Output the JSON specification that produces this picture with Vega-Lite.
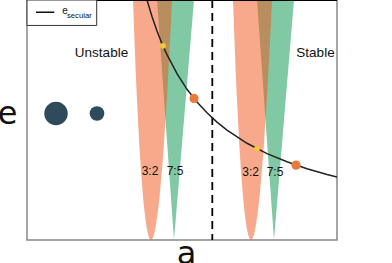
{
  "$schema": "https://vega.github.io/schema/vega-lite/v6.json",
  "width": 310,
  "height": 240,
  "autosize": {"type": "none"},
  "padding": {"left": 27, "top": 0, "right": 55, "bottom": 23},
  "config": {
    "view": {"stroke": "#888888", "strokeWidth": 1.5},
    "axis": {"domain": false, "ticks": false, "labels": false, "grid": false, "titleFont": "DejaVu Sans", "titleFontWeight": "normal", "titleFontSize": 32, "titleColor": "#111111"}
  },
  "datasets": {
    "wedges": [
      {"wedge": "o1", "kind": "3:2", "e": 0, "lo": 1.240, "hi": 1.240},
      {"wedge": "o1", "kind": "3:2", "e": 0.005, "lo": 1.226, "hi": 1.254},
      {"wedge": "o1", "kind": "3:2", "e": 0.01, "lo": 1.221, "hi": 1.260},
      {"wedge": "o1", "kind": "3:2", "e": 0.02, "lo": 1.213, "hi": 1.268},
      {"wedge": "o1", "kind": "3:2", "e": 0.05, "lo": 1.197, "hi": 1.284},
      {"wedge": "o1", "kind": "3:2", "e": 0.1, "lo": 1.180, "hi": 1.303},
      {"wedge": "o1", "kind": "3:2", "e": 0.15, "lo": 1.167, "hi": 1.318},
      {"wedge": "o1", "kind": "3:2", "e": 0.2, "lo": 1.156, "hi": 1.330},
      {"wedge": "o1", "kind": "3:2", "e": 0.3, "lo": 1.138, "hi": 1.351},
      {"wedge": "o1", "kind": "3:2", "e": 0.4, "lo": 1.123, "hi": 1.369},
      {"wedge": "o1", "kind": "3:2", "e": 0.5, "lo": 1.110, "hi": 1.385},
      {"wedge": "o1", "kind": "3:2", "e": 0.6, "lo": 1.098, "hi": 1.400},
      {"wedge": "o1", "kind": "3:2", "e": 0.7, "lo": 1.087, "hi": 1.414},
      {"wedge": "o1", "kind": "3:2", "e": 0.8, "lo": 1.078, "hi": 1.426},
      {"wedge": "o1", "kind": "3:2", "e": 0.9, "lo": 1.069, "hi": 1.439},
      {"wedge": "o1", "kind": "3:2", "e": 1.0, "lo": 1.060, "hi": 1.450},
      {"wedge": "o2", "kind": "3:2", "e": 0, "lo": 2.240, "hi": 2.240},
      {"wedge": "o2", "kind": "3:2", "e": 0.005, "lo": 2.226, "hi": 2.254},
      {"wedge": "o2", "kind": "3:2", "e": 0.01, "lo": 2.221, "hi": 2.260},
      {"wedge": "o2", "kind": "3:2", "e": 0.02, "lo": 2.213, "hi": 2.268},
      {"wedge": "o2", "kind": "3:2", "e": 0.05, "lo": 2.197, "hi": 2.284},
      {"wedge": "o2", "kind": "3:2", "e": 0.1, "lo": 2.180, "hi": 2.303},
      {"wedge": "o2", "kind": "3:2", "e": 0.15, "lo": 2.167, "hi": 2.318},
      {"wedge": "o2", "kind": "3:2", "e": 0.2, "lo": 2.156, "hi": 2.330},
      {"wedge": "o2", "kind": "3:2", "e": 0.3, "lo": 2.138, "hi": 2.351},
      {"wedge": "o2", "kind": "3:2", "e": 0.4, "lo": 2.123, "hi": 2.369},
      {"wedge": "o2", "kind": "3:2", "e": 0.5, "lo": 2.110, "hi": 2.385},
      {"wedge": "o2", "kind": "3:2", "e": 0.6, "lo": 2.098, "hi": 2.400},
      {"wedge": "o2", "kind": "3:2", "e": 0.7, "lo": 2.087, "hi": 2.414},
      {"wedge": "o2", "kind": "3:2", "e": 0.8, "lo": 2.078, "hi": 2.426},
      {"wedge": "o2", "kind": "3:2", "e": 0.9, "lo": 2.069, "hi": 2.439},
      {"wedge": "o2", "kind": "3:2", "e": 1.0, "lo": 2.060, "hi": 2.450},
      {"wedge": "g1", "kind": "7:5", "e": 0, "lo": 1.470, "hi": 1.470},
      {"wedge": "g1", "kind": "7:5", "e": 0.1, "lo": 1.453, "hi": 1.490},
      {"wedge": "g1", "kind": "7:5", "e": 0.2, "lo": 1.436, "hi": 1.510},
      {"wedge": "g1", "kind": "7:5", "e": 0.3, "lo": 1.419, "hi": 1.530},
      {"wedge": "g1", "kind": "7:5", "e": 0.4, "lo": 1.402, "hi": 1.550},
      {"wedge": "g1", "kind": "7:5", "e": 0.5, "lo": 1.385, "hi": 1.570},
      {"wedge": "g1", "kind": "7:5", "e": 0.6, "lo": 1.368, "hi": 1.590},
      {"wedge": "g1", "kind": "7:5", "e": 0.7, "lo": 1.351, "hi": 1.610},
      {"wedge": "g1", "kind": "7:5", "e": 0.8, "lo": 1.334, "hi": 1.630},
      {"wedge": "g1", "kind": "7:5", "e": 0.9, "lo": 1.317, "hi": 1.650},
      {"wedge": "g1", "kind": "7:5", "e": 1.0, "lo": 1.300, "hi": 1.670},
      {"wedge": "g2", "kind": "7:5", "e": 0, "lo": 2.470, "hi": 2.470},
      {"wedge": "g2", "kind": "7:5", "e": 0.1, "lo": 2.453, "hi": 2.490},
      {"wedge": "g2", "kind": "7:5", "e": 0.2, "lo": 2.436, "hi": 2.510},
      {"wedge": "g2", "kind": "7:5", "e": 0.3, "lo": 2.419, "hi": 2.530},
      {"wedge": "g2", "kind": "7:5", "e": 0.4, "lo": 2.402, "hi": 2.550},
      {"wedge": "g2", "kind": "7:5", "e": 0.5, "lo": 2.385, "hi": 2.570},
      {"wedge": "g2", "kind": "7:5", "e": 0.6, "lo": 2.368, "hi": 2.590},
      {"wedge": "g2", "kind": "7:5", "e": 0.7, "lo": 2.351, "hi": 2.610},
      {"wedge": "g2", "kind": "7:5", "e": 0.8, "lo": 2.334, "hi": 2.630},
      {"wedge": "g2", "kind": "7:5", "e": 0.9, "lo": 2.317, "hi": 2.650},
      {"wedge": "g2", "kind": "7:5", "e": 1.0, "lo": 2.300, "hi": 2.670}
    ],
    "curve": [
      {"a": 1.2, "e": 1.0}, {"a": 1.25, "e": 0.931}, {"a": 1.3, "e": 0.871},
      {"a": 1.35, "e": 0.818}, {"a": 1.4, "e": 0.772}, {"a": 1.5, "e": 0.693},
      {"a": 1.6, "e": 0.628}, {"a": 1.7, "e": 0.575}, {"a": 1.8, "e": 0.530},
      {"a": 1.9, "e": 0.491}, {"a": 2.0, "e": 0.458}, {"a": 2.2, "e": 0.403},
      {"a": 2.4, "e": 0.360}, {"a": 2.6, "e": 0.326}, {"a": 2.8, "e": 0.297},
      {"a": 3.0, "e": 0.273}, {"a": 3.1, "e": 0.262}
    ],
    "points": [
      {"kind": "big", "a": 0.29, "e": 0.527},
      {"kind": "small", "a": 0.70, "e": 0.527},
      {"kind": "yellow", "a": 1.36, "e": 0.809},
      {"kind": "yellow", "a": 2.30, "e": 0.381},
      {"kind": "orange", "a": 1.67, "e": 0.590},
      {"kind": "orange", "a": 2.69, "e": 0.312}
    ],
    "regions": [
      {"label": "Unstable", "a": 0.745, "e": 0.779},
      {"label": "Stable", "a": 2.885, "e": 0.779}
    ],
    "res": [
      {"label": "3:2", "a": 1.23, "e": 0.2875},
      {"label": "7:5", "a": 1.48, "e": 0.2875},
      {"label": "3:2", "a": 2.237, "e": 0.282},
      {"label": "7:5", "a": 2.48, "e": 0.282}
    ]
  },
  "layer": [
    {
      "data": {"name": "wedges"},
      "transform": [{"filter": "datum.kind === '7:5'"}],
      "mark": {"type": "area", "orient": "horizontal", "color": "#80c9a4", "opacity": 1},
      "encoding": {
        "y": {"field": "e", "type": "quantitative", "scale": {"domain": [0, 1], "nice": false, "zero": false}, "axis": {"title": "e", "titleAngle": 0, "titleAlign": "center", "titleBaseline": "alphabetic", "titleX": -20, "titleY": 123}},
        "x": {"field": "lo", "type": "quantitative", "scale": {"domain": [0, 3.1], "nice": false, "zero": false}, "axis": {"title": "a", "titleAlign": "center", "titleBaseline": "alphabetic", "titleX": 159, "titleY": 23}},
        "x2": {"field": "hi"},
        "detail": {"field": "wedge"}
      }
    },
    {
      "data": {"name": "wedges"},
      "transform": [{"filter": "datum.kind === '3:2'"}],
      "mark": {"type": "area", "orient": "horizontal", "color": "#f15317", "opacity": 0.5},
      "encoding": {
        "y": {"field": "e", "type": "quantitative"},
        "x": {"field": "lo", "type": "quantitative"},
        "x2": {"field": "hi"},
        "detail": {"field": "wedge"}
      }
    },
    {
      "data": {"values": [{}]},
      "mark": {"type": "rule", "color": "#000000", "strokeWidth": 1.8, "strokeDash": [8, 5]},
      "encoding": {"x": {"datum": 1.853}}
    },
    {
      "data": {"name": "curve"},
      "mark": {"type": "line", "color": "#222222", "strokeWidth": 1.5, "clip": true},
      "encoding": {
        "x": {"field": "a", "type": "quantitative"},
        "y": {"field": "e", "type": "quantitative"}
      }
    },
    {
      "data": {"name": "points"},
      "transform": [{"filter": "datum.kind === 'big'"}],
      "mark": {"type": "circle", "opacity": 1, "color": "#2e4a5b", "size": 550},
      "encoding": {"x": {"field": "a", "type": "quantitative"}, "y": {"field": "e", "type": "quantitative"}}
    },
    {
      "data": {"name": "points"},
      "transform": [{"filter": "datum.kind === 'small'"}],
      "mark": {"type": "circle", "opacity": 1, "color": "#2e4a5b", "size": 215},
      "encoding": {"x": {"field": "a", "type": "quantitative"}, "y": {"field": "e", "type": "quantitative"}}
    },
    {
      "data": {"name": "points"},
      "transform": [{"filter": "datum.kind === 'yellow'"}],
      "mark": {"type": "circle", "opacity": 1, "color": "#f0c93a", "size": 34},
      "encoding": {"x": {"field": "a", "type": "quantitative"}, "y": {"field": "e", "type": "quantitative"}}
    },
    {
      "data": {"name": "points"},
      "transform": [{"filter": "datum.kind === 'orange'"}],
      "mark": {"type": "circle", "opacity": 1, "color": "#e87a3a", "size": 85},
      "encoding": {"x": {"field": "a", "type": "quantitative"}, "y": {"field": "e", "type": "quantitative"}}
    },
    {
      "data": {"name": "regions"},
      "mark": {"type": "text", "font": "Liberation Sans", "fontSize": 13.5, "color": "#111111", "align": "center", "baseline": "middle"},
      "encoding": {
        "x": {"field": "a", "type": "quantitative"},
        "y": {"field": "e", "type": "quantitative"},
        "text": {"field": "label"}
      }
    },
    {
      "data": {"name": "res"},
      "mark": {"type": "text", "font": "Liberation Sans", "fontSize": 12, "color": "#111111", "align": "center", "baseline": "middle"},
      "encoding": {
        "x": {"field": "a", "type": "quantitative"},
        "y": {"field": "e", "type": "quantitative"},
        "text": {"field": "label"}
      }
    },
    {
      "data": {"values": [{}]},
      "mark": {"type": "rule", "color": "#000000", "strokeWidth": 2},
      "encoding": {"y": {"datum": 1}}
    },
    {
      "data": {"values": [{}]},
      "mark": {"type": "rect", "fill": "#ffffff", "stroke": "#333333", "strokeWidth": 1},
      "encoding": {"x": {"datum": 0}, "x2": {"datum": 0.697}, "y": {"datum": 1}, "y2": {"datum": 0.894}}
    },
    {
      "data": {"values": [{}]},
      "mark": {"type": "rule", "color": "#111111", "strokeWidth": 1.5},
      "encoding": {"x": {"datum": 0.09}, "x2": {"datum": 0.273}, "y": {"datum": 0.949}}
    },
    {
      "data": {"values": [{"t": "e", "a": 0.353, "e": 0.940}]},
      "mark": {"type": "text", "font": "Liberation Sans", "fontSize": 10, "color": "#111111", "align": "left", "baseline": "alphabetic"},
      "encoding": {"x": {"field": "a", "type": "quantitative"}, "y": {"field": "e", "type": "quantitative"}, "text": {"field": "t"}}
    },
    {
      "data": {"values": [{"t": "secular", "a": 0.40, "e": 0.924}]},
      "mark": {"type": "text", "font": "Liberation Sans", "fontSize": 7.7, "color": "#111111", "align": "left", "baseline": "alphabetic"},
      "encoding": {"x": {"field": "a", "type": "quantitative"}, "y": {"field": "e", "type": "quantitative"}, "text": {"field": "t"}}
    }
  ]
}
